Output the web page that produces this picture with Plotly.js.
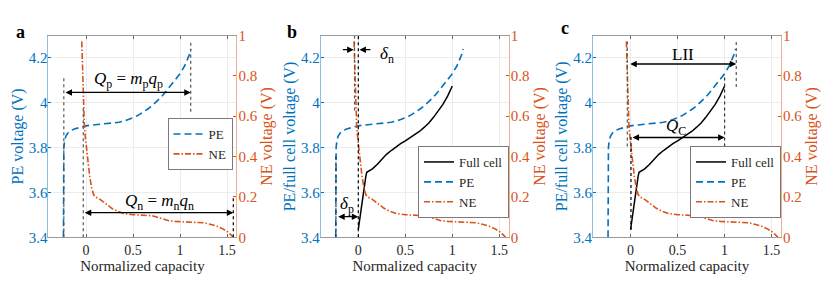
<!DOCTYPE html>
<html>
<head>
<meta charset="utf-8">
<script src="https://cdn.plot.ly/plotly-3.0.1.min.js"></script>
<style>html,body{margin:0;padding:0;background:#fff;}#chart{width:830px;height:292px;}</style>
</head>
<body>
<div id="chart"></div>
<script>
// ---------- data ----------
const peX = [-0.24, -0.24, -0.236, -0.228, -0.215, -0.195, -0.165, -0.125, -0.085, -0.045, 0, 0.05, 0.1, 0.15, 0.2, 0.25, 0.3, 0.35, 0.4, 0.45, 0.5, 0.55, 0.6, 0.65, 0.7, 0.75, 0.8, 0.85, 0.9, 0.95, 1.0, 1.05, 1.1, 1.115];
const peY = [3.4, 3.76, 3.8, 3.83, 3.85, 3.864, 3.875, 3.883, 3.888, 3.893, 3.897, 3.9, 3.902, 3.904, 3.906, 3.908, 3.91, 3.913, 3.918, 3.925, 3.933, 3.943, 3.955, 3.97, 3.986, 4.005, 4.025, 4.05, 4.075, 4.1, 4.13, 4.165, 4.215, 4.24];
const neX = [-0.045, -0.037, -0.028, -0.018, -0.008, 0.005, 0.02, 0.04, 0.06, 0.08, 0.1, 0.15, 0.2, 0.27, 0.33, 0.4, 0.5, 0.6, 0.7, 0.76, 0.82, 0.88, 0.95, 1.05, 1.15, 1.25, 1.32, 1.39, 1.45, 1.5, 1.54, 1.567];
const neY = [0.97, 0.82, 0.68, 0.56, 0.5, 0.44, 0.38, 0.3, 0.245, 0.212, 0.2, 0.188, 0.17, 0.145, 0.13, 0.118, 0.112, 0.111, 0.107, 0.099, 0.089, 0.082, 0.079, 0.077, 0.075, 0.072, 0.065, 0.056, 0.043, 0.029, 0.013, 0];
const fcX = [0, 0.02, 0.04, 0.06, 0.08, 0.09, 0.12, 0.15, 0.2, 0.25, 0.3, 0.35, 0.4, 0.45, 0.5, 0.55, 0.6, 0.65, 0.7, 0.75, 0.8, 0.85, 0.9, 0.95, 1.0];
const fcY = [3.435, 3.5, 3.56, 3.62, 3.672, 3.69, 3.697, 3.705, 3.725, 3.75, 3.77, 3.787, 3.803, 3.818, 3.83, 3.843, 3.857, 3.872, 3.89, 3.91, 3.935, 3.962, 3.993, 4.03, 4.075];

const xTickVals = [0, 0.5, 1, 1.5];
const xTickText = ['0', '0.5', '1', '1.5'];
const leftTickVals = [3.4, 3.6, 3.8, 4, 4.2];
const leftTickText = ['3.4', '3.6', '3.8', '4', '4.2'];
const rightTickVals = [0, 0.2, 0.4, 0.6, 0.8, 1];
const rightTickText = ['0', '0.2', '0.4', '0.6', '0.8', '1'];

const panelLabels = ['a', 'b', 'c'];
const leftTitles = ['PE voltage (V)', 'PE/full cell voltage (V)', 'PE/full cell voltage (V)'];
const rightTitle = 'NE voltage (V)';
const xTitle = 'Normalized capacity';

// ---------- style ----------
const BLUE = '#0072BD', ORANGE = '#D95319', DARK = '#262626';
const FONT = 'Liberation Serif';
const W = 830, H = 292;
const px = v => v / W, py = v => 1 - v / H;
const xDomains = [[48.4, 236.4], [320.7, 508.7], [593, 781]];
const yDom = [py(237.3), py(35.5)];

const traces = [];
function addPanel(i, withFull) {
  const xa = i === 0 ? 'x' : 'x' + (i + 1);
  const yl = 'y' + (i === 0 ? '' : (2 * i + 1));
  const yr = 'y' + (2 * i + 2);
  const lg = i === 0 ? 'legend' : 'legend' + (i + 1);
  if (withFull) traces.push({x: fcX, y: fcY, xaxis: xa, yaxis: yl, mode: 'lines', name: 'Full cell', legend: lg,
    line: {color: '#000', width: 1.5}});
  traces.push({x: peX, y: peY, xaxis: xa, yaxis: yl, mode: 'lines', name: 'PE', legend: lg,
    line: {color: BLUE, width: 1.6, dash: '7px,4px'}});
  traces.push({x: neX, y: neY, xaxis: xa, yaxis: yr, mode: 'lines', name: 'NE', legend: lg,
    line: {color: ORANGE, width: 1.6, dash: '6px,2px,1.5px,2px'}});
}
addPanel(0, false); addPanel(1, true); addPanel(2, true);

const layout = {
  width: W, height: H, margin: {l: 0, r: 0, t: 0, b: 0},
  paper_bgcolor: '#fff', plot_bgcolor: '#fff',
  font: {family: FONT, size: 14, color: DARK},
  shapes: [], annotations: []
};

for (let i = 0; i < 3; i++) {
  const xk = i === 0 ? 'xaxis' : 'xaxis' + (i + 1);
  const yl = 'yaxis' + (i === 0 ? '' : (2 * i + 1));
  const yr = 'yaxis' + (2 * i + 2);
  const xa = i === 0 ? 'x' : 'x' + (i + 1);
  const ylid = 'y' + (i === 0 ? '' : (2 * i + 1));
  layout[xk] = {
    domain: [px(xDomains[i][0]), px(xDomains[i][1])], anchor: ylid,
    range: [-0.4, 1.6], tickvals: xTickVals, ticktext: xTickText,
    showgrid: true, gridcolor: '#ececec', gridwidth: 1, zeroline: false,
    ticks: 'inside', ticklen: 3, tickcolor: '#666', showline: true, linecolor: '#9a9a9a', linewidth: 1, mirror: 'ticks',
    tickfont: {family: FONT, size: 14, color: DARK},
    title: {text: xTitle, font: {family: FONT, size: 15, color: DARK}, standoff: 2}, automargin: false
  };
  layout[yl] = {
    domain: yDom, anchor: xa, range: [3.4, 4.3], tickvals: leftTickVals, ticktext: leftTickText,
    showgrid: true, gridcolor: '#ececec', zeroline: false,
    ticks: 'inside', ticklen: 3, tickcolor: BLUE, showline: true, linecolor: '#8cbde3', linewidth: 1,
    tickfont: {family: FONT, size: 15, color: BLUE}, ticklabelstandoff: -3,
    title: {text: leftTitles[i], font: {family: FONT, size: 16, color: BLUE}, standoff: 1}, automargin: false
  };
  layout[yr] = {
    overlaying: ylid, side: 'right', anchor: xa, range: [0, 1], tickvals: rightTickVals, ticktext: rightTickText,
    showgrid: false, zeroline: false,
    ticks: 'inside', ticklen: 3, tickcolor: ORANGE, showline: true, linecolor: '#f0ad8f', linewidth: 1,
    tickfont: {family: FONT, size: 15, color: ORANGE}, ticklabelstandoff: -2,
    title: {text: rightTitle, font: {family: FONT, size: 16, color: ORANGE}, standoff: 4}, automargin: false
  };
}

// legends
const legendBase = {bgcolor: '#fff', bordercolor: '#7a7a7a', borderwidth: 1, font: {family: FONT, size: 13, color: DARK},
  xanchor: 'right', yanchor: 'top', traceorder: 'normal', tracegroupgap: 0};
layout.legend = Object.assign({}, legendBase, {x: px(232.5), y: py(118)});
layout.legend2 = Object.assign({}, legendBase, {x: px(509), y: py(146)});
layout.legend3 = Object.assign({}, legendBase, {x: px(781), y: py(146)});

// dotted guide lines: [panel, x, y0, y1, color]
const guides = [
  [0, -0.236, 3.4, 4.12, '#555'], [0, -0.029, 3.4, 3.98, '#555'], [0, 1.114, 3.96, 4.28, '#555'], [0, 1.567, 3.4, 3.575, '#000'],
  [1, -0.238, 3.4, 3.77, '#333'], [1, -0.04, 3.965, 4.3, '#555'], [1, 0.0, 3.4, 4.3, '#000'],
  [2, -0.035, 3.805, 4.28, '#555'], [2, 0.004, 3.433, 3.858, '#000'], [2, 1.0, 3.805, 4.118, '#333'], [2, 1.124, 4.07, 4.28, '#555']
];
guides.forEach(g => {
  const xa = g[0] === 0 ? 'x' : 'x' + (g[0] + 1);
  const ya = 'y' + (g[0] === 0 ? '' : (2 * g[0] + 1));
  layout.shapes.push({type: 'line', xref: xa, yref: ya, x0: g[1], x1: g[1], y0: g[2], y1: g[3],
    line: {color: g[4], width: 1.2, dash: 'dot'}});
});

// arrows: [panel, xTail, xHead, y, side]
const arrows = [
  [0, -0.234, 1.114, 4.046, 'end+start'], [0, -0.029, 1.567, 3.51, 'end+start'],
  [1, -0.23, 0.0, 3.492, 'end+start'], [1, -0.18, -0.05, 4.237, 'end'], [1, 0.145, 0.012, 4.237, 'end'],
  [2, -0.02, 1.124, 4.173, 'end+start'], [2, 0.005, 1.0, 3.845, 'end+start']
];
arrows.forEach(a => {
  const xa = a[0] === 0 ? 'x' : 'x' + (a[0] + 1);
  const ya = 'y' + (a[0] === 0 ? '' : (2 * a[0] + 1));
  layout.annotations.push({xref: xa, yref: ya, axref: xa, ayref: ya, x: a[2], y: a[3], ax: a[1], ay: a[3],
    text: '', showarrow: true, arrowhead: 2, startarrowhead: 2, arrowside: a[4], arrowsize: 1, startarrowsize: 1,
    arrowwidth: 1.3, arrowcolor: '#000'});
});

// math labels: [panel, text, x, y]
const mathLabels = [
  [0, '<i>Q</i><sub>p</sub> = <i>m</i><sub>p</sub><i>q</i><sub>p</sub>', 0.45, 4.103],
  [0, '<i>Q</i><sub>n</sub> = <i>m</i><sub>n</sub><i>q</i><sub>n</sub>', 0.787, 3.559],
  [1, '<i>δ</i><sub>p</sub>', -0.124, 3.545],
  [1, '<i>δ</i><sub>n</sub>', 0.30, 4.215],
  [2, 'LII', 0.558, 4.215],
  [2, '<i>Q</i><sub>C</sub>', 0.488, 3.894]
];
mathLabels.forEach(m => {
  const xa = m[0] === 0 ? 'x' : 'x' + (m[0] + 1);
  const ya = 'y' + (m[0] === 0 ? '' : (2 * m[0] + 1));
  layout.annotations.push({xref: xa, yref: ya, x: m[2], y: m[3], text: m[1], showarrow: false,
    font: {family: FONT, size: 17, color: '#000'}, xanchor: 'center', yanchor: 'middle'});
});

// panel letters
const letterPos = [[20.7, 32.3], [292.3, 31.7], [565, 28]];
panelLabels.forEach((t, i) => {
  layout.annotations.push({xref: 'paper', yref: 'paper', x: px(letterPos[i][0]), y: py(letterPos[i][1]),
    text: '<b>' + t + '</b>', showarrow: false, font: {family: FONT, size: 18, color: '#000'},
    xanchor: 'center', yanchor: 'middle'});
});

Plotly.newPlot('chart', traces, layout, {displayModeBar: false, staticPlot: true});
</script>
</body>
</html>
